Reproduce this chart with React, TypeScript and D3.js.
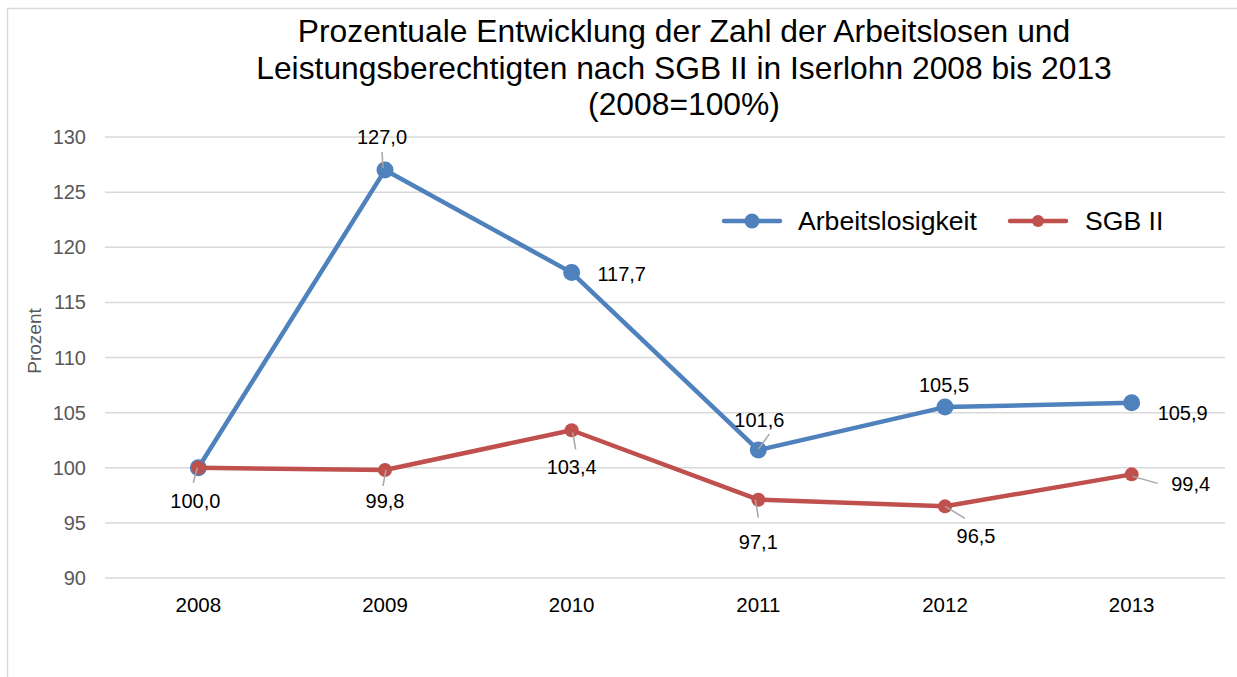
import React from "react";
import * as d3 from "d3";

const years = ["2008", "2009", "2010", "2011", "2012", "2013"];
const arbeitslosigkeit = [100.0, 127.0, 117.7, 101.6, 105.5, 105.9];
const sgb2 = [100.0, 99.8, 103.4, 97.1, 96.5, 99.4];
const yTicks = [90, 95, 100, 105, 110, 115, 120, 125, 130];
const titleLines = [
  "Prozentuale Entwicklung der Zahl der Arbeitslosen und",
  "Leistungsberechtigten nach SGB II in Iserlohn 2008 bis 2013",
  "(2008=100%)",
];
const seriesNames = ["Arbeitslosigkeit", "SGB II"];

// label placement: [dx, dy(baseline), leader x1,y1,x2,y2 relative to marker] or null
type Lab = { dx: number; dy: number; leader?: [number, number, number, number] } | null;
const blueLabels: Lab[] = [
  null,
  { dx: -3, dy: -26, leader: [-3, -18, -2, -2] },
  { dx: 50, dy: 8 },
  { dx: 1, dy: -23, leader: [0, -1, 11, -16] },
  { dx: -1, dy: -15 },
  { dx: 51, dy: 17 },
];
const redLabels: Lab[] = [
  { dx: -3, dy: 40, leader: [-1, 0, -5, 15] },
  { dx: 0, dy: 38, leader: [1, 0, -2, 16] },
  { dx: 0, dy: 44, leader: [1, 2, 4, 19] },
  { dx: 0, dy: 49, leader: [-3, 0, 0, 18] },
  { dx: 31, dy: 37, leader: [0, 0, 20, 12] },
  { dx: 59, dy: 17, leader: [1, 2, 26, 9] },
];

const W = 1237;
const H = 677;
const left = 105;
const right = 1225;
const top = 137;
const bottom = 578;
const BLUE = "#4f81bd";
const RED = "#c0504d";
const FONT = "'Liberation Sans', Arial, sans-serif";

export default function App() {
  const x = d3.scalePoint<string>().domain(years).range([left, right]).padding(0.5);
  const y = d3.scaleLinear().domain([90, 130]).range([bottom, top]);
  const line = d3
    .line<number>()
    .x((_, i) => x(years[i]) as number)
    .y((d) => y(d));

  const fmt = (v: number) => v.toFixed(1).replace(".", ",");

  const renderLabels = (vals: number[], labs: Lab[]) =>
    vals.map((v, i) => {
      const l = labs[i];
      if (!l) return null;
      const cx = x(years[i]) as number;
      const cy = y(v);
      return (
        <g key={i}>
          {l.leader && (
            <line
              x1={cx + l.leader[0]}
              y1={cy + l.leader[1]}
              x2={cx + l.leader[2]}
              y2={cy + l.leader[3]}
              stroke="#a6a6a6"
              strokeWidth={1.5}
            />
          )}
          <text x={cx + l.dx} y={cy + l.dy} textAnchor="middle" fontSize={20} fill="#000">
            {fmt(v)}
          </text>
        </g>
      );
    });

  return (
    <svg
      width={W}
      height={H}
      style={{ position: "absolute", left: 0, top: 0, fontFamily: FONT }}
    >
      <rect x={0} y={0} width={W} height={H} fill="#fff" />
      <rect x={7.5} y={8.5} width={1400} height={1000} fill="none" stroke="#d9d9d9" strokeWidth={1.5} />
      {titleLines.map((t, i) => (
        <text key={i} x={684} y={42 + i * 36.5} textAnchor="middle" fontSize={31.8} fill="#000">
          {t}
        </text>
      ))}
      {yTicks.map((t) => (
        <g key={t}>
          <line x1={left} x2={right} y1={y(t)} y2={y(t)} stroke="#d9d9d9" strokeWidth={1.5} />
          <text x={86} y={y(t) + 7} textAnchor="end" fontSize={20} fill="#595959">
            {t}
          </text>
        </g>
      ))}
      {years.map((yr) => (
        <text key={yr} x={x(yr) as number} y={612} textAnchor="middle" fontSize={20.5} fill="#000">
          {yr}
        </text>
      ))}
      <text
        transform={`translate(41,${341}) rotate(-90)`}
        textAnchor="middle"
        fontSize={19}
        fill="#595959"
      >
        Prozent
      </text>
      <path d={line(arbeitslosigkeit) || ""} fill="none" stroke={BLUE} strokeWidth={4.5} strokeLinejoin="round" />
      {arbeitslosigkeit.map((v, i) => (
        <circle key={i} cx={x(years[i]) as number} cy={y(v)} r={8.5} fill={BLUE} />
      ))}
      <path d={line(sgb2) || ""} fill="none" stroke={RED} strokeWidth={4.5} strokeLinejoin="round" />
      {sgb2.map((v, i) => (
        <circle key={i} cx={x(years[i]) as number} cy={y(v)} r={7} fill={RED} />
      ))}
      {renderLabels(arbeitslosigkeit, blueLabels)}
      {renderLabels(sgb2, redLabels)}
      {/* legend */}
      <g>
        <line x1={724} x2={780} y1={221} y2={221} stroke={BLUE} strokeWidth={4.5} strokeLinecap="round" />
        <circle cx={752} cy={221} r={7.5} fill={BLUE} />
        <text x={798} y={230} fontSize={26.6} fill="#000">
          {seriesNames[0]}
        </text>
        <line x1={1010} x2={1066} y1={221} y2={221} stroke={RED} strokeWidth={4.5} strokeLinecap="round" />
        <circle cx={1038} cy={221} r={6} fill={RED} />
        <text x={1085} y={230} fontSize={26.6} fill="#000">
          {seriesNames[1]}
        </text>
      </g>
    </svg>
  );
}
